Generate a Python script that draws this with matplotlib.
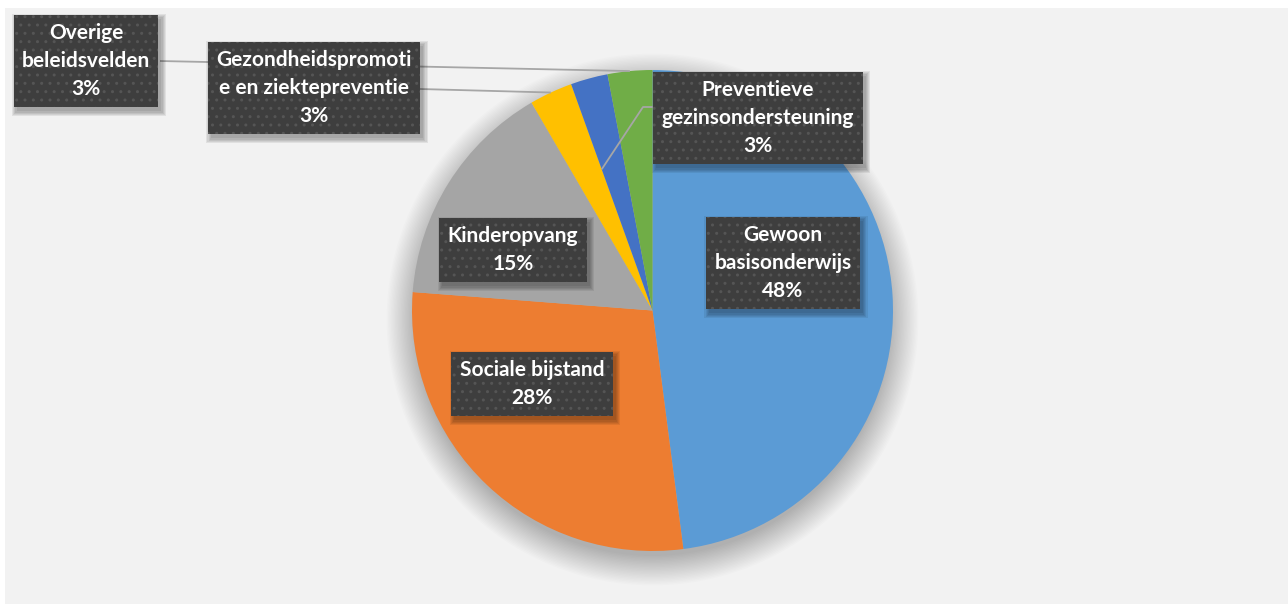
import matplotlib
matplotlib.use("Agg")
import matplotlib.pyplot as plt
from matplotlib.patches import Rectangle, Circle
import numpy as np

plt.rcParams['font.family'] = ['Lato', 'DejaVu Sans']

# data (shares in %, clockwise from 12 o'clock)
categories = ['Gewoon basisonderwijs', 'Sociale bijstand', 'Kinderopvang',
              'Gezondheidspromotie en ziektepreventie',
              'Preventieve gezinsondersteuning', 'Overige beleidsvelden']
shares = [48.0, 28.3, 15.4, 2.9, 2.5, 3.0]
pct_labels = ['48%', '28%', '15%', '3%', '3%', '3%']
label_text = ['Gewoon\nbasisonderwijs', 'Sociale bijstand', 'Kinderopvang',
              'Gezondheidspromoti\ne en ziektepreventie',
              'Preventieve\ngezinsondersteuning', 'Overige\nbeleidsvelden']
colors = ['#5B9BD5', '#ED7D31', '#A5A5A5', '#FFC000', '#4472C4', '#70AD47']

W, H = 1288, 605
fig = plt.figure(figsize=(W / 100, H / 100), dpi=100)
fig.patch.set_facecolor('white')
ax = fig.add_axes([0, 0, 1, 1])


def py(y):
    # pixel row (from top) -> data y
    return H - y


ax.add_patch(Rectangle((5, py(604)), W - 5, 596, facecolor='#F2F2F2',
                       edgecolor='none', zorder=0))

cx, cy, R = 652.5, py(310.5), 240.5

# soft shadow below the pie
for k in range(22):
    ax.add_patch(Circle((cx, cy - 9), R - 4 + 1.4 * k, facecolor='black',
                        edgecolor='none', alpha=0.011, zorder=1))

wedges, _ = ax.pie(shares, colors=colors, startangle=90, counterclock=False,
                   radius=R, center=(cx, cy), frame=True,
                   wedgeprops=dict(linewidth=0, zorder=2))

ax.set_xlim(0, W)
ax.set_ylim(0, H)
ax.set_aspect('equal')
ax.axis('off')


def arc_mid(w, frac=1.0):
    a = np.deg2rad((w.theta1 + w.theta2) / 2)
    return cx + frac * R * np.cos(a), cy + frac * R * np.sin(a)


# leader lines
line_kw = dict(color='#A6A6A6', lw=1.3, zorder=3, solid_capstyle='butt')
gx, gy = arc_mid(wedges[3])
ax.plot([420, gx], [py(89), gy], **line_kw)
ox, oy = arc_mid(wedges[5])
ax.plot([160, ox], [py(61), oy], **line_kw)
a = np.deg2rad(wedges[4].theta2)
px_, py_ = cx + 0.624 * R * np.cos(a), cy + 0.624 * R * np.sin(a)
ax.plot([654, 643, px_], [py(107), py(107), py_], **line_kw)

# label boxes
label_pos = [(783, 263), (532, 384), (513, 250), (314, 88), (758, 118), (86, 61)]
texts = []
for txt, pct, (x, y) in zip(label_text, pct_labels, label_pos):
    t = ax.text(x, py(y), txt + '\n' + pct, color='white', zorder=5,
                ha='center', va='center', fontsize=15, fontweight='bold',
                linespacing=1.5, multialignment='center',
                bbox=dict(boxstyle='square,pad=0.4', facecolor='#3E3E3E',
                          edgecolor='#555555', linewidth=0, hatch='..'))
    texts.append(t)

# blurred drop shadows behind the boxes
fig.canvas.draw()
inv = ax.transData.inverted()
for t in texts:
    bb = t.get_bbox_patch().get_window_extent()
    (x0, y0), (x1, y1) = inv.transform([[bb.x0, bb.y0], [bb.x1, bb.y1]])
    for k in range(5):
        g = k * 1.2
        ax.add_patch(Rectangle((x0 + 3 - g, y0 - 4 - g), (x1 - x0) + 2 * g,
                               (y1 - y0) + 2 * g, facecolor='black',
                               edgecolor='none', alpha=0.07, zorder=4))

fig.savefig('out.png', dpi=100, facecolor=fig.get_facecolor())
